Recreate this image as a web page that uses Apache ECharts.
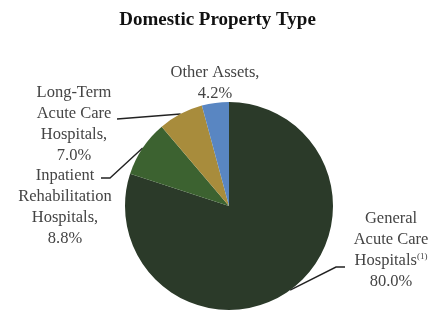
<!DOCTYPE html>
<html>
<head>
<meta charset="utf-8">
<script src="https://cdn.jsdelivr.net/npm/echarts@6/dist/echarts.min.js"></script>
<style>
  html, body { margin: 0; padding: 0; background: #fff; }
  #chart { width: 435px; height: 316px; }
</style>
</head>
<body>
<div id="chart"></div>
<script>
// 数据: 按顺时针从12点开始
const categories = ['General Acute Care Hospitals', 'Inpatient Rehabilitation Hospitals', 'Long-Term Acute Care Hospitals', 'Other Assets']
const shares = [80.0, 8.8, 7.0, 4.2]
const labelTexts = [
    'General\nAcute Care\nHospitals{sup|(1)}\n80.0%',
    'Inpatient\nRehabilitation\nHospitals,\n8.8%',
    'Long-Term\nAcute Care\nHospitals,\n7.0%',
    'Other Assets,\n4.2%'
]
const colors = ['#2b3a29', '#3c6230', '#a88c3c', '#5986c2']

// 标签位置 (center x, top y) 和引导线的拐点
const labelPos = [
    { x: 391, y: 208, bend: [[336, 267], [345, 267]] },
    { x: 65, y: 165, bend: [[110, 178], [101, 178]] },
    { x: 74, y: 82, bend: [[117, 119]] },
    { x: 215, y: 62, bend: null }
]

const chart = echarts.init(document.getElementById('chart'))

chart.setOption({
    animation: false,
    title: {
        text: 'Domestic Property Type',
        left: 'center',
        top: 6,
        textStyle: {
            fontFamily: 'Liberation Serif',
            fontWeight: 'bold',
            fontSize: 19,
            color: '#111'
        }
    },
    series: [{
        type: 'pie',
        center: [229, 206],
        radius: 104,
        startAngle: 90,
        clockwise: true,
        data: categories.map((name, i) => ({
            name: name,
            value: shares[i],
            itemStyle: { color: colors[i] },
            label: { formatter: labelTexts[i] },
            labelLine: { show: labelPos[i].bend !== null }
        })),
        label: {
            show: true,
            position: 'outside',
            overflow: 'none',
            fontFamily: 'Liberation Serif',
            fontSize: 16.5,
            lineHeight: 21,
            color: '#444',
            align: 'center',
            rich: {
                sup: { fontSize: 9, lineHeight: 21, padding: [0, 0, 8, 0], color: '#444', fontFamily: 'Liberation Serif' }
            }
        },
        labelLine: {
            lineStyle: { color: '#222', width: 1.4 },
            smooth: false
        },
        labelLayout: function (params) {
            const p = labelPos[params.dataIndex]
            const out = { x: p.x, y: p.y, align: 'center', verticalAlign: 'top' }
            if (p.bend && params.labelLinePoints) {
                out.labelLinePoints = [params.labelLinePoints[0]].concat(p.bend)
            }
            return out
        }
    }]
})
</script>
</body>
</html>
